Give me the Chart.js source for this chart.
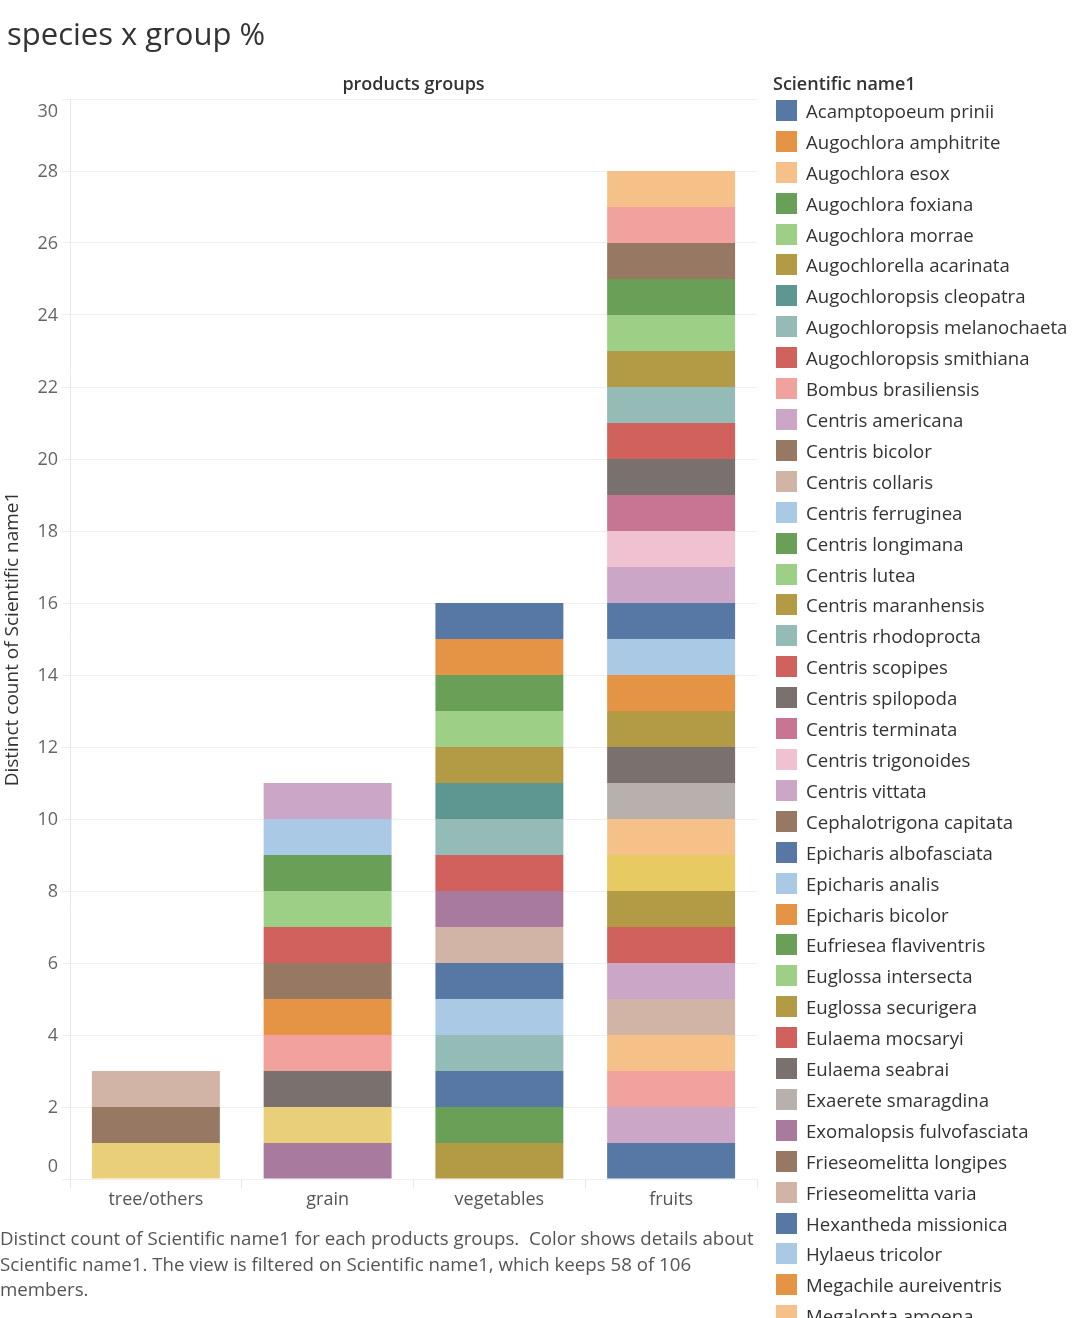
<!DOCTYPE html>
<html>
<head>
<meta charset="utf-8">
<script src="https://cdn.jsdelivr.net/npm/chart.js@4"></script>
<style>
  body { margin: 0; overflow: hidden; background: #fff; font-family: "Open Sans", sans-serif; color: #333; }
  #page { position: relative; width: 1076px; height: 1318px; overflow: hidden; }
  #chart { position: absolute; left: 0; top: 0; }
  .title { position: absolute; left: 7px; top: 13px; font-size: 31px; line-height: 40px; color: #333; }
  .header { position: absolute; left: 70px; width: 687px; top: 72px; text-align: center; font-size: 18px; font-weight: 600; color: #333; line-height: 22px; }
  .footer { position: absolute; left: 0; top: 1225px; font-size: 18.7px; line-height: 25.5px; color: #555; }
  #legend { position: absolute; left: 773px; top: 72px; width: 303px; }
  #legend .ltitle { font-size: 18px; font-weight: 600; line-height: 22px; height: 23px; }
  #legend .item { height: 30.92px; display: flex; align-items: center; font-size: 18.6px; white-space: nowrap; }
  #legend .sw { width: 21px; height: 21px; margin: 0 9px 0 3px; flex: none; }
</style>
</head>
<body>
<div id="page">
  <canvas id="chart" width="1076" height="1318"></canvas>
  <div class="title">species x group %</div>
  <div class="header">products groups</div>
  <div id="legend"><div class="ltitle">Scientific name1</div></div>
  <div class="footer">Distinct count of Scientific name1 for each products groups.&nbsp; Color shows details about<br>Scientific name1. The view is filtered on Scientific name1, which keeps 58 of 106<br>members.</div>
</div>
<script>
// product groups (x axis)
const groups = ['tree/others', 'grain', 'vegetables', 'fruits'];
const yTicks = [0, 2, 4, 6, 8, 10, 12, 14, 16, 18, 20, 22, 24, 26, 28, 30];

// species in legend order (first at the top of each stack); the last 18 are cut off in the picture
const species = [
  'Acamptopoeum prinii', 'Augochlora amphitrite', 'Augochlora esox', 'Augochlora foxiana',
  'Augochlora morrae', 'Augochlorella acarinata', 'Augochloropsis cleopatra', 'Augochloropsis melanochaeta',
  'Augochloropsis smithiana', 'Bombus brasiliensis', 'Centris americana', 'Centris bicolor',
  'Centris collaris', 'Centris ferruginea', 'Centris longimana', 'Centris lutea',
  'Centris maranhensis', 'Centris rhodoprocta', 'Centris scopipes', 'Centris spilopoda',
  'Centris terminata', 'Centris trigonoides', 'Centris vittata', 'Cephalotrigona capitata',
  'Epicharis albofasciata', 'Epicharis analis', 'Epicharis bicolor', 'Eufriesea flaviventris',
  'Euglossa intersecta', 'Euglossa securigera', 'Eulaema mocsaryi', 'Eulaema seabrai',
  'Exaerete smaragdina', 'Exomalopsis fulvofasciata', 'Frieseomelitta longipes', 'Frieseomelitta varia',
  'Hexantheda missionica', 'Hylaeus tricolor', 'Megachile aureiventris', 'Megalopta amoena',
  // not readable in the picture
  'species 41', 'species 42', 'species 43', 'species 44', 'species 45', 'species 46',
  'species 47', 'species 48', 'species 49', 'species 50', 'species 51', 'species 52',
  'species 53', 'species 54', 'species 55', 'species 56', 'species 57', 'species 58'
];

// which group each species falls in (distinct count = 1)
const speciesGroup = [
  'vegetables', 'vegetables', 'fruits', 'vegetables',
  'vegetables', 'vegetables', 'vegetables', 'vegetables',
  'vegetables', 'fruits', 'grain', 'fruits',
  'tree/others', 'grain', 'fruits', 'fruits',
  'fruits', 'fruits', 'fruits', 'fruits',
  'fruits', 'fruits', 'fruits', 'tree/others',
  'fruits', 'fruits', 'fruits', 'grain',
  'grain', 'fruits', 'grain', 'fruits',
  'fruits', 'vegetables', 'grain', 'vegetables',
  'vegetables', 'vegetables', 'grain', 'fruits',
  'fruits', 'fruits', 'fruits', 'fruits', 'fruits', 'fruits', 'fruits', 'fruits', 'fruits',
  'vegetables', 'vegetables', 'vegetables', 'vegetables',
  'grain', 'grain', 'grain', 'grain',
  'tree/others'
];

const speciesColor = [
  '#5778a4', '#e49444', '#f5c188', '#6a9f58',
  '#9dcf87', '#b39a44', '#5e9792', '#94bbb5',
  '#d1615d', '#f1a29e', '#cca6c7', '#977862',
  '#d1b4a6', '#a9c9e4', '#6a9f58', '#9dcf87',
  '#b39a44', '#94bbb5', '#d1615d', '#7a706e',
  '#c77592', '#f0c1d0', '#cca6c7', '#977862',
  '#5778a4', '#a9c9e4', '#e49444', '#6a9f58',
  '#9dcf87', '#b39a44', '#d1615d', '#7a706e',
  '#b8b0ac', '#a87b9e', '#977862', '#d1b4a6',
  '#5778a4', '#a9c9e4', '#e49444', '#f5c188',
  '#e7ca62', '#b39a44', '#d1615d', '#cca6c7', '#d1b4a6', '#f5c188', '#f1a29e', '#cca6c7', '#5778a4',
  '#94bbb5', '#5778a4', '#6a9f58', '#b39a44',
  '#f1a29e', '#7a706e', '#e9cf79', '#a87b9e',
  '#e9cf79'
];

// Chart.js stacks dataset 0 at the bottom, so reverse
const datasets = species.map((name, i) => ({
  label: name,
  data: groups.map(g => (g === speciesGroup[i] ? 1 : null)),
  backgroundColor: speciesColor[i],
  borderWidth: 0,
  categoryPercentage: 1,
  barPercentage: 0.745
})).reverse();

// y tick labels, pulled inside the plot at both ends like the original
const yLabels = {
  id: 'yLabels',
  afterDraw(chart) {
    const s = chart.scales.y;
    const c = chart.ctx;
    c.save();
    c.font = '18px "Open Sans"';
    c.fillStyle = '#666';
    c.textAlign = 'right';
    c.textBaseline = 'middle';
    yTicks.forEach(v => {
      let py = s.getPixelForValue(v) + 1;
      py = Math.min(Math.max(py, s.top + 13), s.bottom - 12);
      c.fillText(String(v), 58, py);
    });
    c.restore();
  }
};

const chart = new Chart(document.getElementById('chart'), {
  type: 'bar',
  data: { labels: groups, datasets: datasets },
  options: {
    responsive: false,
    animation: false,
    layout: { padding: { top: 99, right: 319, bottom: 99, left: 0 } },
    plugins: {
      legend: { display: false },
      tooltip: { enabled: false }
    },
    scales: {
      x: {
        stacked: true,
        afterFit: function (scale) { scale.height = 40; },
        grid: { drawOnChartArea: false, offset: true, tickLength: 9, color: '#e8e8e8' },
        border: { display: false },
        ticks: { font: { family: 'Open Sans', size: 18 }, color: '#555', padding: 1 }
      },
      y: {
        stacked: true,
        min: 0,
        max: 30,
        afterFit: function (scale) { scale.width = 70; },
        afterBuildTicks: function (scale) { scale.ticks = yTicks.map(v => ({ value: v })); },
        grid: { color: '#efefef', tickLength: 8 },
        border: { display: true, color: '#e8e8e8' },
        ticks: { display: false },
        title: {
          display: true,
          text: 'Distinct count of Scientific name1',
          font: { family: 'Open Sans', size: 19 },
          color: '#333',
          padding: { top: 1, bottom: 0 }
        }
      }
    }
  },
  plugins: [yLabels]
});

// html legend in legend order
const legendBox = document.getElementById('legend');
species.forEach((name, i) => {
  const row = document.createElement('div');
  row.className = 'item';
  row.innerHTML = '<span class="sw" style="background:' + speciesColor[i] + '"></span>' + name;
  legendBox.appendChild(row);
});
</script>
</body>
</html>
